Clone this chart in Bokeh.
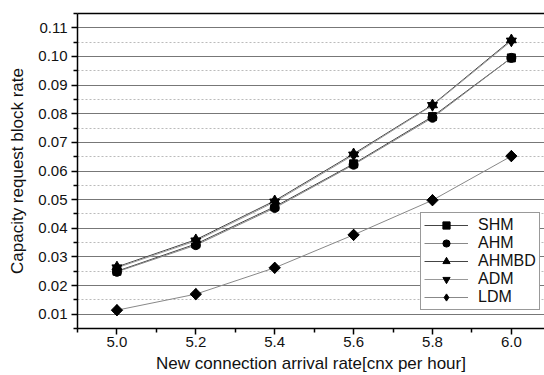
import math
from bokeh.plotting import figure
from bokeh.models import (Range1d, FixedTicker, NumeralTickFormatter, Legend, LegendItem, LinearAxis)
from bokeh.embed import file_html
from bokeh.resources import INLINE

rates = [5.0, 5.2, 5.4, 5.6, 5.8, 6.0]
shm = [0.0250, 0.0345, 0.0475, 0.0625, 0.0790, 0.0995]
ahm = [0.0248, 0.0341, 0.0471, 0.0622, 0.0786, 0.0995]
ahmbd = [0.0265, 0.0360, 0.0496, 0.0660, 0.0831, 0.1058]
adm = [0.0262, 0.0356, 0.0492, 0.0656, 0.0829, 0.1054]
ldm = [0.0114, 0.0170, 0.0262, 0.0377, 0.0498, 0.0652]

x_ticks = [5.0, 5.2, 5.4, 5.6, 5.8, 6.0]
x_minor = [4.9, 5.1, 5.3, 5.5, 5.7, 5.9, 6.1]
y_ticks = [0.01, 0.02, 0.03, 0.04, 0.05, 0.06, 0.07, 0.08, 0.09, 0.10, 0.11]
y_minor = [0.005, 0.015, 0.025, 0.035, 0.045, 0.055, 0.065, 0.075, 0.085, 0.095, 0.105, 0.115]

FONT = "Liberation Sans"

p = figure(width=544, height=375, output_backend="svg", toolbar_location=None,
           x_range=Range1d(4.9, 6.084), y_range=Range1d(0.005, 0.115),
           min_border_left=77, min_border_right=0, min_border_top=13, min_border_bottom=47)
p.outline_line_color = None
p.background_fill_color = "white"

p.xaxis.ticker = FixedTicker(ticks=x_ticks, minor_ticks=x_minor)
p.yaxis.ticker = FixedTicker(ticks=y_ticks, minor_ticks=y_minor)
p.xaxis.formatter = NumeralTickFormatter(format="0.0")
p.yaxis.formatter = NumeralTickFormatter(format="0.00")

for ax in (p.xaxis, p.yaxis):
    ax.axis_line_color = "black"
    ax.axis_line_width = 1.5
    ax.major_tick_line_color = "black"
    ax.minor_tick_line_color = "black"
    ax.major_tick_line_width = 1.5
    ax.minor_tick_line_width = 1.5
    ax.major_tick_out = 6
    ax.major_tick_in = 0
    ax.minor_tick_out = 4
    ax.minor_tick_in = 0
    ax.major_label_text_font = FONT
    ax.major_label_text_font_size = "15px"
    ax.major_label_text_color = "#111"
    ax.axis_label_text_font = FONT
    ax.axis_label_text_font_style = "normal"
    ax.axis_label_text_color = "#111"
    ax.axis_label_text_font_size = "17px"

p.xaxis.axis_label = "New connection arrival rate[cnx per hour]"
p.yaxis.axis_label = "Capacity request block rate"
p.xaxis.major_label_standoff = 2
p.yaxis.major_label_standoff = 4
p.xaxis.axis_label_standoff = 4
p.yaxis.axis_label_standoff = 8

top = LinearAxis(ticker=FixedTicker(ticks=[]), major_label_text_font_size="0px",
                 axis_line_color="black", axis_line_width=1.5,
                 major_tick_line_color=None, minor_tick_line_color=None)
p.add_layout(top, "above")

p.xgrid.ticker = p.xaxis[0].ticker
p.ygrid.ticker = p.yaxis[0].ticker
for g in (p.xgrid, p.ygrid):
    g.grid_line_color = "#777777"
    g.grid_line_width = 1
    g.minor_grid_line_color = "#bbbbbb"
    g.minor_grid_line_dash = "2 2"

series = [
    ("SHM", shm, "square", 8, "#444444"),
    ("AHM", ahm, "circle", 9, "#888888"),
    ("AHMBD", ahmbd, "triangle", 10, "#444444"),
    ("ADM", adm, "inverted_triangle", 10, "#999999"),
    ("LDM", ldm, "diamond", 11, "#888888"),
]
items = []
for name, vals, marker, size, lc in series:
    r1 = p.line(rates, vals, line_color=lc, line_width=1)
    if marker == "diamond":
        p.scatter(rates, vals, marker="square", size=8, angle=math.pi / 4,
                  fill_color="black", line_color="black")
        r2 = p.scatter(rates, vals, marker="diamond", size=size,
                       fill_color="black", line_color="black")
    else:
        r2 = p.scatter(rates, vals, marker=marker, size=size,
                       fill_color="black", line_color="black")
    items.append(LegendItem(label=name, renderers=[r1, r2]))

legend = Legend(items=items, location=(343, 18), orientation="vertical",
                label_text_font=FONT, label_text_font_size="16px", label_text_color="#111",
                glyph_width=44, glyph_height=18, spacing=0, label_standoff=10,
                padding=3, margin=0,
                border_line_color="#333333", border_line_width=1.2,
                background_fill_alpha=1, label_height=16)
p.add_layout(legend, "center")

open("out.html", "w").write(file_html(p, INLINE))
